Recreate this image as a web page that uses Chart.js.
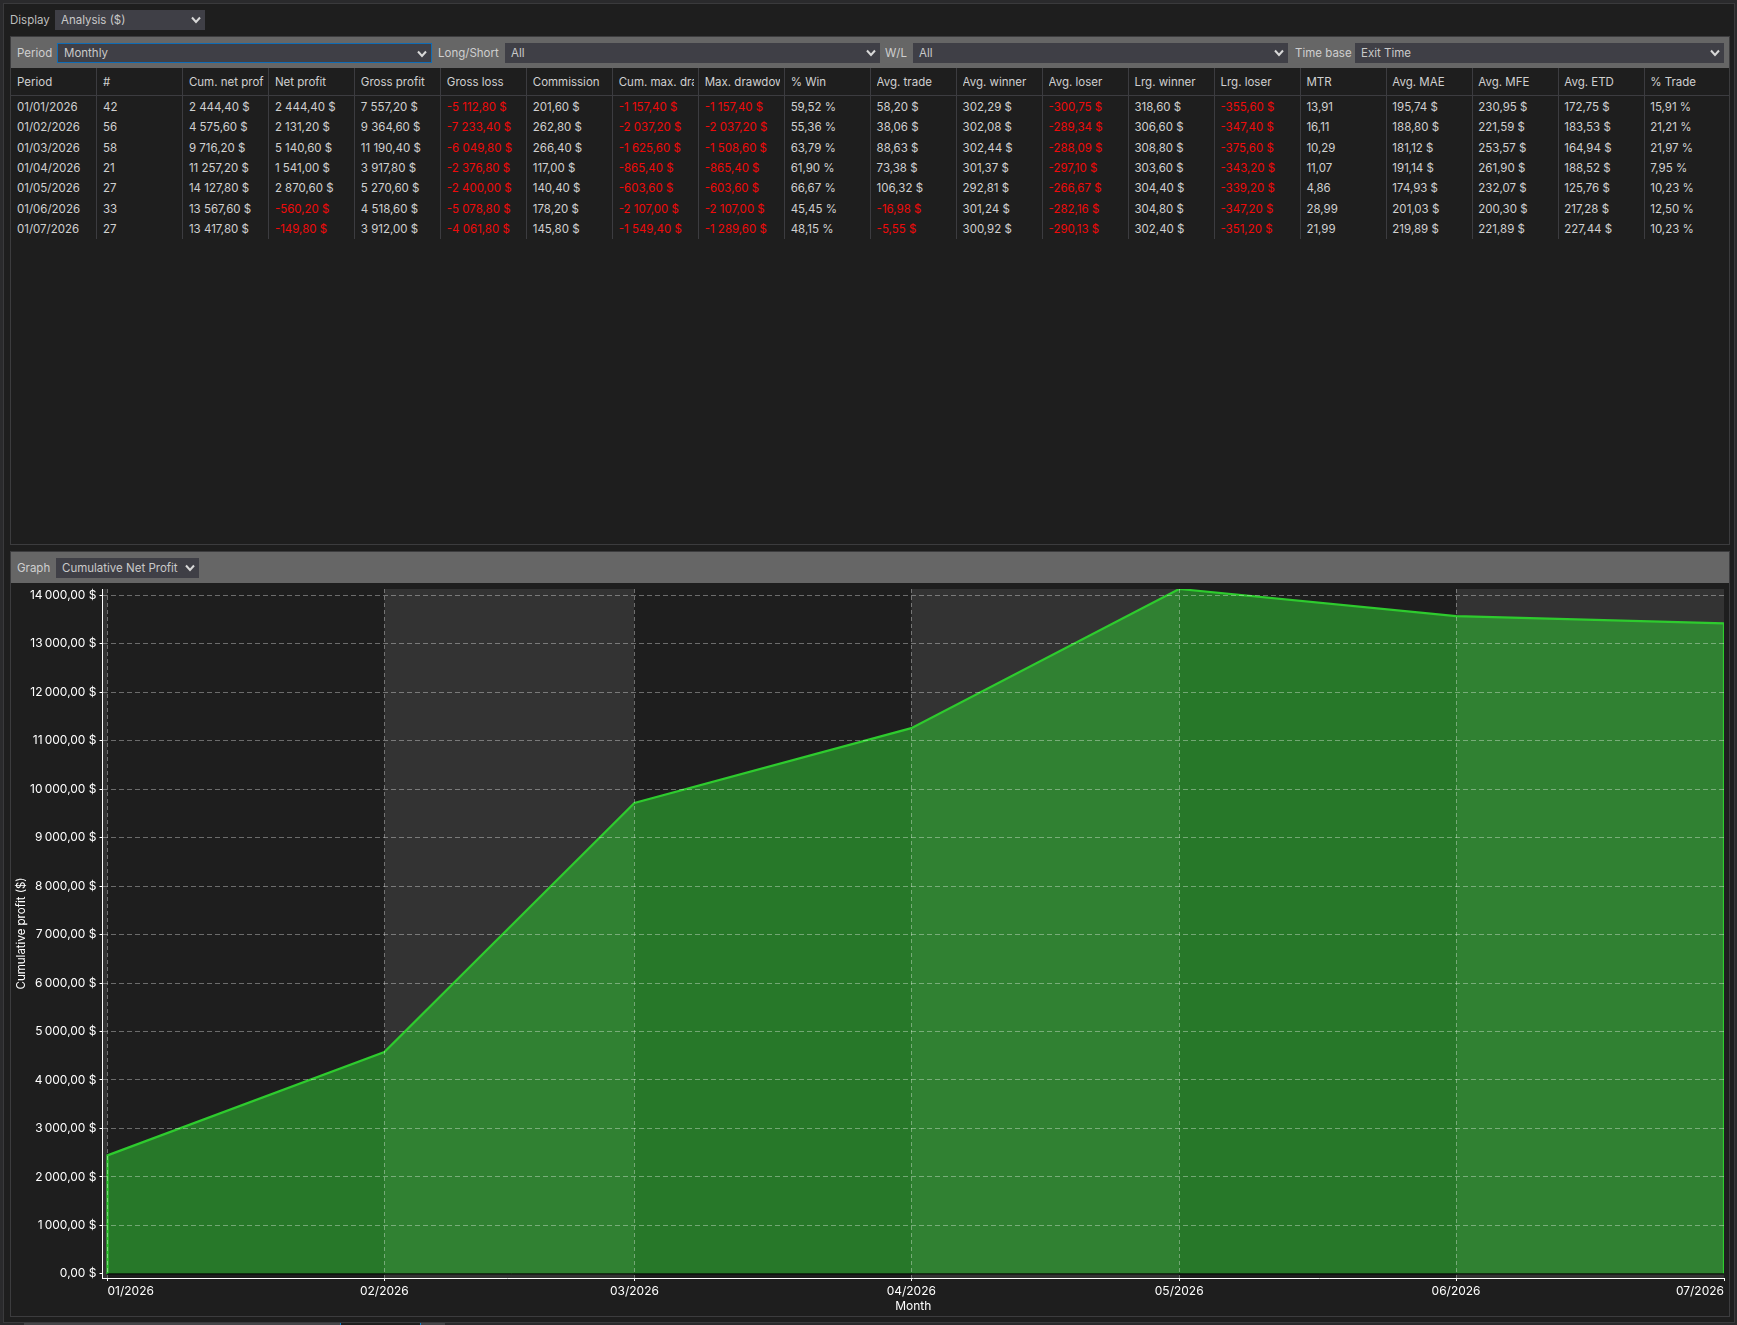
<!DOCTYPE html>
<html><head><meta charset="utf-8">
<script src="https://cdn.jsdelivr.net/npm/chart.js@4"></script>
<style>
html,body{margin:0;padding:0;width:1737px;height:1325px;overflow:hidden;background:#2a2a2c;font-family:Inter,sans-serif;}
#win{position:absolute;left:3px;top:3px;width:1732px;height:1320px;background:#1e1e1e;border:1px solid #3a3a3c;box-sizing:border-box;}
.abs{position:absolute;box-sizing:border-box;white-space:nowrap;}
.lbl{color:#bdbdbd;font-size:11.5px;line-height:20px;}
.sel{background:#3f3f46;color:#c9c9c9;font-size:11.5px;line-height:20px;padding-left:6px;}
.sel svg{position:absolute;top:4px;}
.panel{border:1px solid #3c3c3e;}
.bar{background:#666;}
.hd{color:#d0d0d0;font-size:11.5px;line-height:20px;overflow:hidden;}
.cell{color:#d0d0d0;font-size:11.5px;line-height:20px;}
.neg{color:#ef0b0b;}
.vline{background:#3c3c40;width:1px;}
.hline{background:#3c3c40;height:1px;}
canvas{position:absolute;left:11px;top:584px;}
</style></head><body>
<div id="win"></div>
<div id="ui"></div>
<canvas id="c" width="1718" height="732" style="width:1718px;height:732px"></canvas>
<script>
const periods=["01/01/2026","01/02/2026","01/03/2026","01/04/2026","01/05/2026","01/06/2026","01/07/2026"];
const tradeCount=["42","56","58","21","27","33","27"];
const cumNetProfitText=["2 444,40 $","4 575,60 $","9 716,20 $","11 257,20 $","14 127,80 $","13 567,60 $","13 417,80 $"];
const netProfit=["2 444,40 $","2 131,20 $","5 140,60 $","1 541,00 $","2 870,60 $","-560,20 $","-149,80 $"];
const grossProfit=["7 557,20 $","9 364,60 $","11 190,40 $","3 917,80 $","5 270,60 $","4 518,60 $","3 912,00 $"];
const grossLoss=["-5 112,80 $","-7 233,40 $","-6 049,80 $","-2 376,80 $","-2 400,00 $","-5 078,80 $","-4 061,80 $"];
const commission=["201,60 $","262,80 $","266,40 $","117,00 $","140,40 $","178,20 $","145,80 $"];
const cumMaxDrawdown=["-1 157,40 $","-2 037,20 $","-1 625,60 $","-865,40 $","-603,60 $","-2 107,00 $","-1 549,40 $"];
const maxDrawdown=["-1 157,40 $","-2 037,20 $","-1 508,60 $","-865,40 $","-603,60 $","-2 107,00 $","-1 289,60 $"];
const pctWin=["59,52 %","55,36 %","63,79 %","61,90 %","66,67 %","45,45 %","48,15 %"];
const avgTrade=["58,20 $","38,06 $","88,63 $","73,38 $","106,32 $","-16,98 $","-5,55 $"];
const avgWinner=["302,29 $","302,08 $","302,44 $","301,37 $","292,81 $","301,24 $","300,92 $"];
const avgLoser=["-300,75 $","-289,34 $","-288,09 $","-297,10 $","-266,67 $","-282,16 $","-290,13 $"];
const lrgWinner=["318,60 $","306,60 $","308,80 $","303,60 $","304,40 $","304,80 $","302,40 $"];
const lrgLoser=["-355,60 $","-347,40 $","-375,60 $","-343,20 $","-339,20 $","-347,20 $","-351,20 $"];
const mtr=["13,91","16,11","10,29","11,07","4,86","28,99","21,99"];
const avgMAE=["195,74 $","188,80 $","181,12 $","191,14 $","174,93 $","201,03 $","219,89 $"];
const avgMFE=["230,95 $","221,59 $","253,57 $","261,90 $","232,07 $","200,30 $","221,89 $"];
const avgETD=["172,75 $","183,53 $","164,94 $","188,52 $","125,76 $","217,28 $","227,44 $"];
const pctTrade=["15,91 %","21,21 %","21,97 %","7,95 %","10,23 %","12,50 %","10,23 %"];
const tableHeaders=["Period","#","Cum. net profit","Net profit","Gross profit","Gross loss","Commission","Cum. max. drawdown","Max. drawdown","% Win","Avg. trade","Avg. winner","Avg. loser","Lrg. winner","Lrg. loser","MTR","Avg. MAE","Avg. MFE","Avg. ETD","% Trade"];
const tableColumns=[periods,tradeCount,cumNetProfitText,netProfit,grossProfit,grossLoss,commission,cumMaxDrawdown,maxDrawdown,pctWin,avgTrade,avgWinner,avgLoser,lrgWinner,lrgLoser,mtr,avgMAE,avgMFE,avgETD,pctTrade];

const monthLabels=["01/2026","02/2026","03/2026","04/2026","05/2026","06/2026","07/2026"];
const monthDays=[0,31,59,90,120,151,181];
const cumulativeNetProfit=[2444.40,4575.60,9716.20,11257.20,14127.80,13567.60,13417.80];
const yTicks=[0,1000,2000,3000,4000,5000,6000,7000,8000,9000,10000,11000,12000,13000,14000];

const ui=document.getElementById('ui');
function add(cls,l,t,w,h,txt,extra){const d=document.createElement('div');d.className='abs '+cls;d.style.cssText=`left:${l}px;top:${t}px;`+(w!=null?`width:${w}px;`:'')+(h!=null?`height:${h}px;`:'')+(extra||'');if(txt!=null)d.textContent=txt;ui.appendChild(d);return d;}
function sel(l,t,w,h,txt,extra){const d=add('sel',l,t,w,h,txt,`line-height:${h}px;`+(extra||''));
 d.innerHTML+=`<svg width="12" height="12" viewBox="0 0 12 12" style="right:3px;top:${(h-12)/2}px"><path d="M2 3.5 L6 8 L10 3.5" fill="none" stroke="#d8d8d8" stroke-width="2"/></svg>`;return d;}
add('lbl',10,10,null,20,'Display');
sel(55,10,150,20,'Analysis ($)');
add('panel',10,36,1720,509);
add('bar',11,37,1718,31);
add('lbl',17,43,null,20,'Period','color:#cfcfcf');
sel(57,43,375,20,'Monthly','border:1px solid #0f6cb5;line-height:18px');
add('lbl',438,43,null,20,'Long/Short','color:#cfcfcf');
sel(505,43,375,20,'All');
add('lbl',885,43,null,20,'W/L','color:#cfcfcf');
sel(913,43,375,20,'All');
add('lbl',1295,43,null,20,'Time base','color:#cfcfcf');
sel(1355,43,369,20,'Exit Time');
const colX=i=>10.5+i*85.96;
add('hline',11,95,1718,1);
const rowY=[96.7,117,137.5,157.7,178,198.5,218.7];
tableHeaders.forEach((h,i)=>{
 if(i>0) add('vline',Math.round(colX(i)),68,null,171);
 add('hd',colX(i)+6.5,72,75,20,h);
 tableColumns[i].forEach((v,r)=>add('cell'+(v[0]==='-'?' neg':''),colX(i)+6.5,rowY[r],null,20,v));
});
add('panel',10,551,1720,766);
add('bar',11,552,1718,31);
add('lbl',17,558,null,20,'Graph','color:#cfcfcf');
sel(56,558,143,20,'Cumulative Net Profit');
// tab strip at window foot
add('',24,1323,316,2,null,'background:#454548');
add('',340,1323,81,2,null,'background:#1e1e1e;border-left:1px solid #0f7fd0;border-right:1px solid #0f7fd0');
add('',421,1323,24,2,null,'background:#454548');

const grpPoints=[{x:monthDays[0],y:0},...monthDays.map((d,i)=>({x:d,y:cumulativeNetProfit[i]})),{x:monthDays[monthDays.length-1],y:0}];
const basePoints=[{x:monthDays[0],y:0},{x:monthDays[monthDays.length-1],y:0}];
const bandPlugin={id:'bands',
 beforeDatasetsDraw(ch){const {ctx,chartArea:a,scales:{x}}=ch;ctx.save();
  const edges=[x.min,...monthDays];
  for(let i=0;i<edges.length-1;i++){
   const x0=x.getPixelForValue(edges[i]),x1=x.getPixelForValue(edges[i+1]);
   ctx.fillStyle=i%2===0?'#333333':'#1e1e1e';
   ctx.fillRect(x0,a.top,x1-x0,a.bottom-a.top);
  }
  ctx.restore();},
 beforeDraw(ch){const items=ch.scales.x.getLabelItems();
  if(items.length){items[0].options.textAlign='left';items[items.length-1].options.textAlign='right';}}
};
const labelFont={family:'Inter, sans-serif',size:12};
const gridCol='rgba(255,255,255,0.35)';
new Chart(document.getElementById('c'),{
 type:'line',
 plugins:[bandPlugin],
 data:{datasets:[
  {label:'Baseline',data:basePoints,borderColor:'#000',borderWidth:1,pointRadius:0,fill:false,order:0},
  {label:'Cumulative Net Profit',data:grpPoints,borderColor:'#2ecb2e',borderWidth:2.2,pointRadius:0,tension:0,
   fill:'origin',backgroundColor:'rgba(46,190,50,0.56)',order:1}
 ]},
 options:{
  responsive:false,animation:false,devicePixelRatio:1,
  layout:{padding:{top:5,right:5,left:0,bottom:0}},
  plugins:{legend:{display:false},tooltip:{enabled:false}},
  scales:{
   x:{type:'linear',min:-0.56,max:monthDays[monthDays.length-1],
    afterBuildTicks(s){s.ticks=monthDays.map(v=>({value:v}));},
    afterFit(s){s.height=38;s.paddingLeft=0;s.paddingRight=0;},
    ticks:{color:'#fff',font:labelFont,maxRotation:0,autoSkip:false,padding:3,
     callback(v){return monthLabels[monthDays.indexOf(v)];}},
    grid:{color:c=>c.tick&&c.tick.value===monthDays[monthDays.length-1]?'rgba(0,0,0,0)':gridCol,tickColor:'#fff',tickLength:3,z:1,lineWidth:1},
    border:{color:'#fff',width:1,dash:[4,3],z:2},
    title:{display:true,text:'Month',color:'#fff',font:labelFont,padding:{top:0,bottom:2}}
   },
   y:{type:'linear',min:-85,max:14127.8,
    afterBuildTicks(s){s.ticks=yTicks.map(v=>({value:v}));},
    afterFit(s){s.width=91.5;s.paddingTop=0;s.paddingBottom=0;},
    ticks:{color:'#fff',font:labelFont,padding:3,
     callback(v){return v.toFixed(2).replace('.',',').replace(/\B(?=(\d{3})+(?!\d))/g,'\u2009')+' $';}},
    grid:{color:c=>c.tick&&c.tick.value===0?'rgba(0,0,0,0)':gridCol,tickColor:'#fff',tickLength:3,z:1,lineWidth:1},
    border:{color:'#fff',width:1,dash:[5,3],z:2},
    title:{display:true,text:'Cumulative profit ($)',color:'#fff',font:{family:'Inter, sans-serif',size:11.5},padding:{top:4,bottom:0}}
   }
  }
 }
});
</script>
</body></html>
